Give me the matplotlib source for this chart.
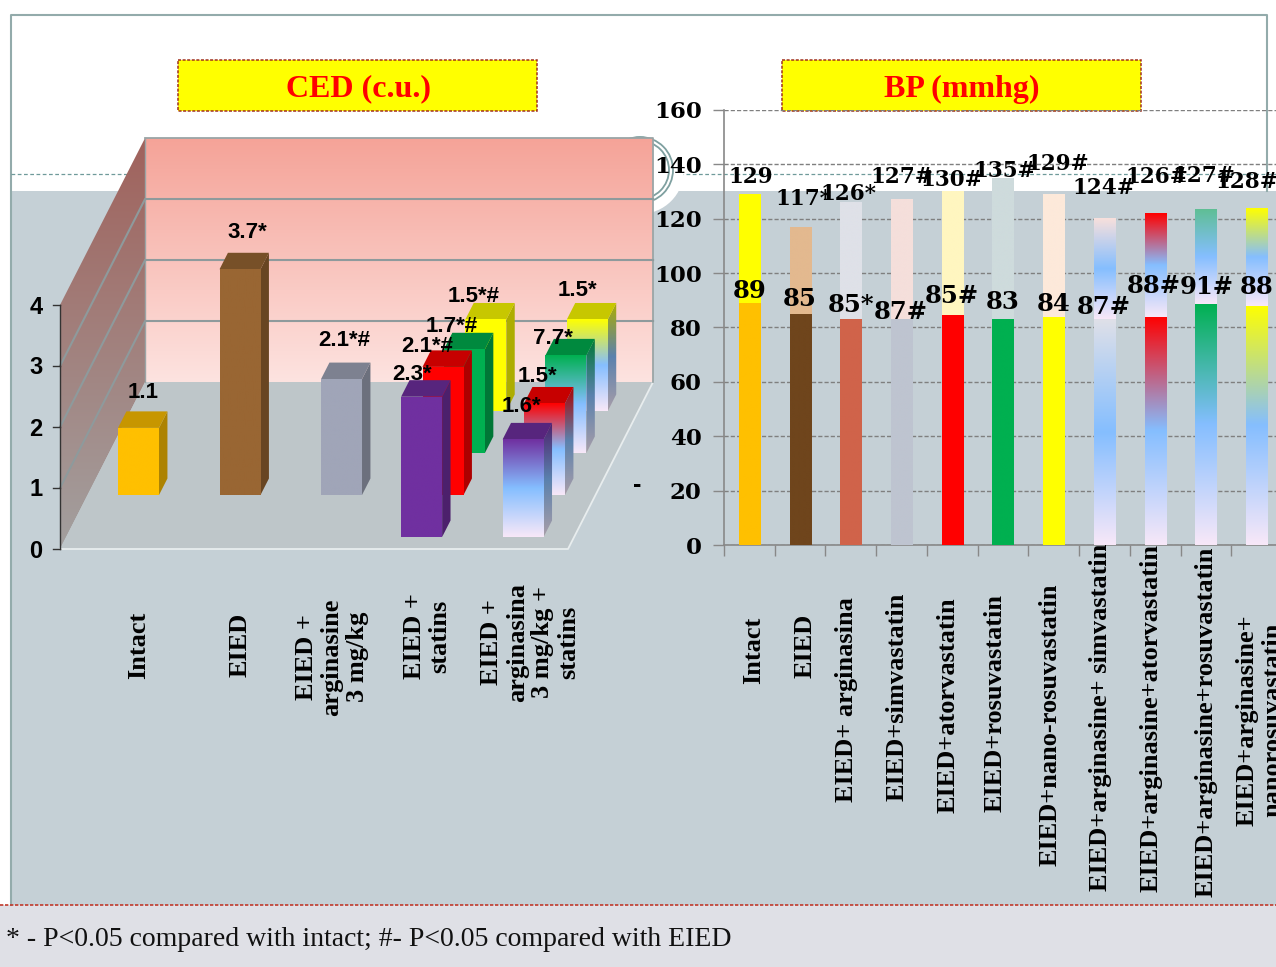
import matplotlib
matplotlib.use('Agg')
import matplotlib.pyplot as plt
from matplotlib.colors import to_rgb
from matplotlib.patches import Polygon, Rectangle, Circle
import numpy as np

W, H = 1276, 967

# left chart (fake 3D): slot along the floor, row going back, height
ced_slots = [0, 1, 2, 3, 3, 3, 3, 4, 4, 4, 4]
ced_rows = [1, 1, 1, 0, 1, 2, 3, 0, 1, 2, 3]
ced_heights = [1.1, 3.7, 1.9, 2.3, 2.1, 1.7, 1.5, 1.6, 1.5, 1.6, 1.5]
ced_labels = ['1.1', '3.7*', '2.1*#', '2.3*', '2.1*#', '1.7*#', '1.5*#', '1.6*', '1.5*', '7.7*', '1.5*']
ced_tops = ['#FFC000', '#996633', '#A0A5B8', '#7030A0', '#FF0000', '#00B050', '#FFFF00',
            '#7030A0', '#FF0000', '#00B050', '#FFFF00']
ced_fades = [False, False, False, False, False, False, False, True, True, True, True]
ced_ticks = [0, 1, 2, 3, 4]
ced_categories = ['Intact', 'EIED', 'EIED +\narginasine\n3 mg/kg', 'EIED +\nstatins',
                  'EIED +\narginasina\n3 mg/kg +\nstatins']

# right chart
bp_categories = ['Intact', 'EIED', 'EIED+ arginasina', 'EIED+simvastatin', 'EIED+atorvastatin',
                 'EIED+rosuvastatin', 'EIED+nano-rosuvastatin', 'EIED+arginasine+ simvastatin',
                 'EIED+arginasine+atorvastatin', 'EIED+arginasine+rosuvastatin',
                 'EIED+arginasine+\nnanorosuvastatin']
bp_lower = [89, 85, 83, 83, 84.6, 83, 84, 83, 84, 88.7, 88]
bp_upper = [129, 117, 126, 127, 130, 134.5, 129, 120, 122, 123.4, 124]
bp_lower_labels = ['89', '85', '85*', '87#', '85#', '83', '84', '87#', '88#', '91#', '88']
bp_upper_labels = ['129', '117*', '126*', '127#', '130#', '135#', '129#', '124#', '126#', '127#', '128#']
bp_lower_colors = ['#FFC000', '#6F451C', '#D0634A', '#BEC4D0', '#FF0000', '#00B050', '#FFFF00',
                   '#DFE0E8', '#FF0000', '#00B050', '#FFFF00']
bp_upper_colors = ['#FFFF00', '#E3B98F', '#DFE1E8', '#F5DFDB', '#FFF6C0', '#CEDBDC', '#FDE9DA',
                   '#F8E0DC', '#FF0000', '#5FBF95', '#FFFF00']
bp_fades = [False] * 7 + [True] * 4

BLUE = '#85BEFF'
PALE = '#F8E8F8'
PANEL = '#C5D0D6'


def ramp(colors, stops):
    rows = np.linspace(0, 1, 256)
    rgb = np.array([to_rgb(c) for c in colors])
    return np.stack([np.interp(rows, stops, rgb[:, k]) for k in range(3)], axis=1)[:, None, :]


def bar_ramp(color, fade, shade=1.0):
    if fade:
        return ramp([color, BLUE, PALE], [0, 0.5, 1]) * shade
    return ramp([color, color], [0, 1]) * shade


def gradient_poly(ax, pts, img, z):
    pts = np.array(pts)
    poly = Polygon(pts, closed=True, transform=ax.transData, fc='none', ec='none')
    ax.add_patch(poly)
    im = ax.imshow(img, extent=(pts[:, 0].min(), pts[:, 0].max(), pts[:, 1].max(), pts[:, 1].min()),
                   aspect='auto', origin='upper', interpolation='bilinear', zorder=z)
    im.set_clip_path(poly)


fig = plt.figure(figsize=(W / 100, H / 100), dpi=100, facecolor='white')

canvas = fig.add_axes([0, 0, 1, 1], zorder=0)
canvas.axis('off')

# slide background
canvas.add_patch(Rectangle((11, 191), W - 11, 714, fc=PANEL, ec='none', zorder=1))
canvas.add_patch(Rectangle((0, 905), W, 62, fc='#DFE0E6', ec='none', zorder=1))
canvas.plot([11, 11, 1267, 1267], [905, 15, 15, 191], color='#93ABAB', lw=1.5, zorder=2)
canvas.plot([11, 1276], [174, 174], color='#6F9A9A', lw=0.9, ls=(0, (3, 2)), zorder=2)
canvas.plot([0, W], [905, 905], color='#C0392B', lw=1.2, ls=(0, (2, 1)), zorder=6)
canvas.add_patch(Circle((640, 170), 44, fc='white', ec='none', zorder=2))
canvas.add_patch(Circle((640, 170), 33, fc='none', ec='#7FA0A0', lw=1.3, zorder=2))
canvas.add_patch(Circle((640, 170), 29, fc='none', ec='#7FA0A0', lw=1.3, zorder=2))

# title boxes
for x0, x1 in [(178, 537), (782, 1141)]:
    canvas.add_patch(Rectangle((x0, 60), x1 - x0, 51, fc='#FFFF00', ec='#A0301C', lw=1.1,
                               ls=(0, (2, 1)), zorder=3))

# fake 3D projection
ORIGIN_X, ORIGIN_Y = 60, 549
DEPTH_X, DEPTH_Y = 21.4, 42
UNIT = 61
SLOT0, SLOT_STEP = 30.5, 101.5
BAR_W, BAR_D = 41, 0.393
ROW0 = 0.286
BACK = 3.976
FLOOR_W = 508


def project(s, d, v=0):
    return ORIGIN_X + s + d * DEPTH_X, ORIGIN_Y - d * DEPTH_Y - v * UNIT


wall_top = ced_ticks[-1]
gradient_poly(canvas, [project(0, BACK, 0), project(FLOOR_W, BACK, 0),
                       project(FLOOR_W, BACK, wall_top), project(0, BACK, wall_top)],
              ramp(['#F5A398', '#FDE3E0'], [0, 1]), 3)
gradient_poly(canvas, [project(0, 0, 0), project(0, BACK, 0), project(0, BACK, wall_top), project(0, 0, wall_top)],
              ramp(['#A0625C', '#A3A09F'], [0, 1]), 3)
floor = [project(0, 0), project(FLOOR_W, 0), project(FLOOR_W, BACK), project(0, BACK)]
canvas.add_patch(Polygon(floor, closed=True, fc='#BEC6C9', ec='none', zorder=3))
canvas.plot(*zip(project(0, 0), project(FLOOR_W, 0), project(FLOOR_W, BACK)), color='#E8EDEE', lw=1.3, zorder=4)
canvas.plot(*zip(project(0, BACK, wall_top), project(FLOOR_W, BACK, wall_top), project(FLOOR_W, BACK, 0)),
            color='#9AA5A6', lw=1.3, zorder=4)
canvas.plot(*zip(project(0, BACK, wall_top), project(0, BACK, 0)), color='#9AA5A6', lw=1, zorder=4)
for t in ced_ticks[1:-1]:
    canvas.plot(*zip(project(0, 0, t), project(0, BACK, t), project(FLOOR_W, BACK, t)),
                color='#8E9A9C', lw=1.5, zorder=4)
canvas.plot(*zip(project(0, 0, 0), project(0, 0, wall_top)), color='#333333', lw=1, zorder=5)
for t in ced_ticks:
    tx, ty = project(0, 0, t)
    canvas.plot([tx - 7, tx], [ty, ty], color='#333333', lw=1, zorder=5)

# bars, back rows first
order = sorted(range(len(ced_heights)), key=lambda i: (-ced_rows[i], ced_slots[i]))
z = 10
for i in order:
    s = SLOT0 + SLOT_STEP * ced_slots[i]
    d = ROW0 + ced_rows[i]
    v = ced_heights[i]
    col = ced_tops[i]
    fade = ced_fades[i]
    gradient_poly(canvas, [project(s + BAR_W, d, 0), project(s + BAR_W, d + BAR_D, 0),
                           project(s + BAR_W, d + BAR_D, v), project(s + BAR_W, d, v)],
                  bar_ramp(col, fade, 0.68), z)
    canvas.add_patch(Polygon([project(s, d, v), project(s + BAR_W, d, v),
                              project(s + BAR_W, d + BAR_D, v), project(s, d + BAR_D, v)],
                             closed=True, fc=np.array(to_rgb(col)) * 0.78, ec='none', zorder=z))
    gradient_poly(canvas, [project(s, d, 0), project(s + BAR_W, d, 0),
                           project(s + BAR_W, d, v), project(s, d, v)],
                  bar_ramp(col, fade), z + 1)
    z += 2

canvas.set_xlim(0, W)
canvas.set_ylim(H, 0)

# right chart
ax = fig.add_axes([724 / W, (H - 545) / H, 558 / W, 435 / H], zorder=1)
ax.patch.set_visible(False)
xs = np.arange(len(bp_categories))
width = 0.415
for i in xs:
    lo, up = bp_lower[i], bp_upper[i]
    ax.imshow(bar_ramp(bp_lower_colors[i], bp_fades[i]), extent=(i - width / 2, i + width / 2, 0, lo),
              aspect='auto', origin='upper', interpolation='bilinear', zorder=3)
    ax.imshow(bar_ramp(bp_upper_colors[i], bp_fades[i]), extent=(i - width / 2, i + width / 2, lo, up),
              aspect='auto', origin='upper', interpolation='bilinear', zorder=3)
ax.set_xlim(-0.5, len(xs) - 0.5)
ax.set_ylim(0, 160)
ax.set_yticks(np.arange(0, 161, 20))
ax.set_xticks(np.arange(len(xs) + 1) - 0.5)
ax.set_xticklabels([])
ax.yaxis.grid(True, color='#7F7F7F', lw=1, ls=(0, (3, 1.5)), zorder=1)
ax.set_axisbelow(True)
ax.spines['top'].set_visible(False)
ax.spines['right'].set_visible(False)
ax.spines['left'].set_color('#888888')
ax.spines['bottom'].set_color('#888888')
ax.spines['left'].set_linewidth(1.2)
ax.spines['bottom'].set_linewidth(1.2)
ax.tick_params(axis='both', color='#888888', length=8, width=1)
ax.tick_params(axis='y', pad=8)
for t in ax.get_yticklabels():
    t.set_fontfamily('DejaVu Serif')
    t.set_fontweight('bold')
    t.set_fontsize(16.5)

# all text sits on a top layer in picture coordinates
top = fig.add_axes([0, 0, 1, 1], zorder=5)
top.axis('off')
top.set_xlim(0, W)
top.set_ylim(H, 0)

SERIF = 'Liberation Serif'
SANS = 'Liberation Sans'
top.text(358, 89, 'CED (c.u.)', color='#FF0000', family=SERIF, weight='bold', size=23, ha='center', va='center')
top.text(962, 89, 'BP (mmhg)', color='#FF0000', family=SERIF, weight='bold', size=23, ha='center', va='center')

for t in ced_ticks:
    tx, ty = project(0, 0, t)
    top.text(36, ty + 2, str(t), family=SANS, weight='bold', size=17, ha='center', va='center')

ced_label_pos = [(143, 393), (247, 232), (344, 341), (412, 374), (427, 346), (452, 326),
                 (474, 296), (521, 407), (537, 376), (553, 338), (577, 291)]
for (x, y), lab in zip(ced_label_pos, ced_labels):
    top.text(x, y, lab, family=SANS, weight='bold', size=16, ha='center', va='center')
top.text(637, 485, '-', family=SANS, weight='bold', size=18, ha='center', va='center')

ced_cat_pos = [(139, 645), (240, 645), (332, 657), (427, 636), (530, 642)]
for (x, y), lab in zip(ced_cat_pos, ced_categories):
    top.text(x, y, lab, family=SERIF, weight='bold', size=19, rotation=90, ha='center', va='center',
             multialignment='center', linespacing=1.15)

bp_upper_pos = [(751, 177), (803, 199), (848, 194), (902, 177), (952, 180), (1005, 171),
                (1058, 164), (1104, 188), (1157, 177), (1204, 176), (1247, 182)]
bp_lower_pos = [(750, 291), (800, 299), (851, 305), (901, 312), (952, 296), (1003, 302),
                (1054, 304), (1104, 307), (1154, 286), (1207, 287), (1257, 287)]
for (x, y), lab in zip(bp_upper_pos, bp_upper_labels):
    top.text(x, y, lab, family='DejaVu Serif', weight='bold', size=15.5, ha='center', va='center')
for (x, y), lab in zip(bp_lower_pos, bp_lower_labels):
    top.text(x, y, lab, family='DejaVu Serif', weight='bold', size=17.5, ha='center', va='center')

bp_cat_pos = [(754, 650), (805, 646), (847, 700), (897, 697), (948, 705), (995, 703),
              (1050, 725), (1100, 717), (1151, 718), (1206, 722), (1260, 720)]
for (x, y), lab in zip(bp_cat_pos, bp_categories):
    top.text(x, y, lab, family=SERIF, weight='bold', size=19, rotation=90, ha='center', va='center',
             multialignment='center', linespacing=1.15)

top.text(6, 939, '* - P<0.05 compared with intact; #- P<0.05 compared with EIED',
         family=SERIF, size=20, ha='left', va='center', color='#111111')

fig.savefig('out.png', dpi=100)
